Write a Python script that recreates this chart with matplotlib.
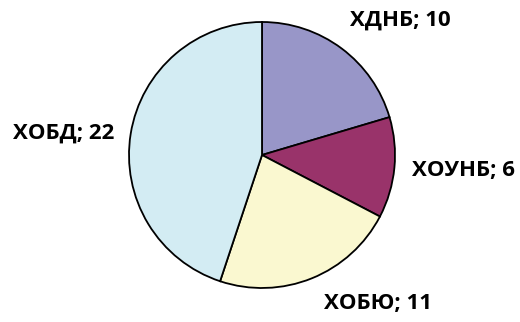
import matplotlib
matplotlib.use("Agg")
import matplotlib.pyplot as plt

categories = ["ХДНБ", "ХОУНБ", "ХОБЮ", "ХОБД"]
values = [10, 6, 11, 22]
colors = ["#9896C8", "#99336A", "#FAF8D0", "#D3ECF3"]

W, H = 520, 322
fig = plt.figure(figsize=(W / 100, H / 100), dpi=100)
ax = fig.add_axes([0, 0, 1, 1])

cx, cy, r = 262, H - 155, 133
ax.pie(values, colors=colors, startangle=90, counterclock=False,
       center=(cx, cy), radius=r, frame=True,
       wedgeprops=dict(edgecolor="black", linewidth=1.3))
ax.set_xlim(0, W)
ax.set_ylim(0, H)
ax.set_aspect("equal")
ax.axis("off")

label_pos = [(400, H - 20), (463, H - 170), (378, H - 303), (64, H - 133)]
for (x, y), c, v in zip(label_pos, categories, values):
    ax.text(x, y, f"{c}; {v}", ha="center", va="center", fontsize=16,
            fontweight="bold", family=["Open Sans", "DejaVu Sans"], color="black")

fig.savefig("out.png", dpi=100)
